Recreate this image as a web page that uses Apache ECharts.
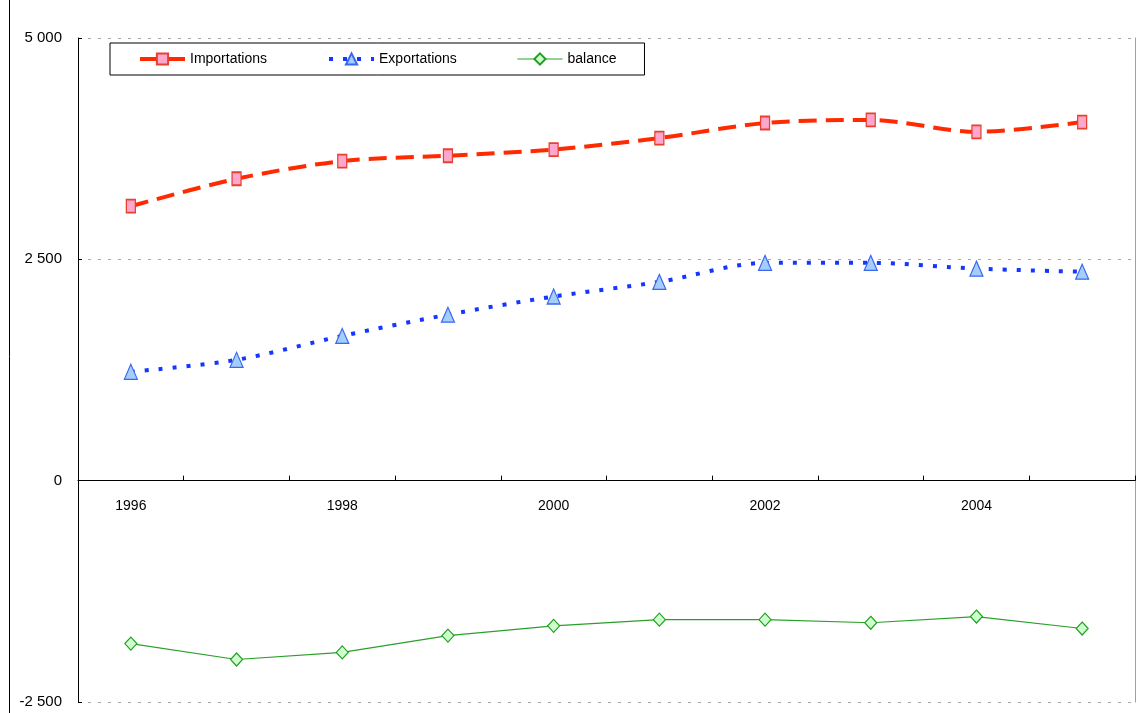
<!DOCTYPE html>
<html>
<head>
<meta charset="utf-8">
<script src="https://cdn.jsdelivr.net/npm/echarts@6/dist/echarts.min.js"></script>
<style>
  html, body { margin: 0; padding: 0; background: #fff; }
  #chart { width: 1138px; height: 713px; }
</style>
</head>
<body>
<div id="chart"></div>
<script>
var years = ["1996", "1997", "1998", "1999", "2000", "2001", "2002", "2003", "2004", "2005"];
var importations = [3100, 3410, 3610, 3670, 3740, 3870, 4040, 4075, 3940, 4050];
var exportations = [1230, 1365, 1635, 1875, 2080, 2245, 2460, 2460, 2395, 2360];
var balance = [-1840, -2020, -1940, -1750, -1640, -1570, -1570, -1605, -1535, -1670];

var font = "'Liberation Sans Narrow', 'Arial Narrow', 'Liberation Sans', sans-serif";

var gridTop = 38, gridBottom = 11, chartH = 713;
var yMin = -2500, yMax = 5000;
// distance from grid bottom up to the zero line
var zeroOffset = (chartH - gridTop - gridBottom) * (0 - yMin) / (yMax - yMin);

function fmt(v) {
  var s = String(Math.abs(v)).replace(/\B(?=(\d{3})+(?!\d))/g, " ");
  return (v < 0 ? "-" : "") + s;
}

var chart = echarts.init(document.getElementById("chart"));
chart.setOption({
  animation: false,
  backgroundColor: "#fff",
  textStyle: { fontFamily: font },
  grid: { left: 78, right: 3, top: gridTop, bottom: gridBottom, containLabel: false, outerBoundsMode: "none" },
  legend: {
    left: 110,
    top: 43,
    padding: [9, 28, 9, 28],
    itemGap: 60,
    itemWidth: 45,
    itemHeight: 14,
    borderColor: "#000",
    borderWidth: 1,
    textStyle: { fontFamily: font, fontSize: 14, color: "#000" },
    data: [
      { name: "Importations", lineStyle: { width: 4 } },
      { name: "Exportations", lineStyle: { width: 4 } },
      { name: "balance", lineStyle: { width: 1.2 } }
    ]
  },
  graphic: [
    { type: "line", shape: { x1: 9.5, y1: 0, x2: 9.5, y2: 713 }, style: { stroke: "#000", lineWidth: 1 } }
  ],
  xAxis: {
    type: "category",
    data: years,
    boundaryGap: true,
    position: "bottom",
    offset: -zeroOffset,
    axisLine: { onZero: false, lineStyle: { color: "#000", width: 1 } },
    axisTick: { show: true, inside: true, length: 5, interval: 0, lineStyle: { color: "#000" } },
    axisLabel: { interval: 1, margin: 18, fontSize: 14, color: "#000", fontFamily: font },
    splitLine: { show: false },
    z: 5
  },
  yAxis: [
    {
      type: "value",
      min: yMin,
      max: yMax,
      interval: 2500,
      axisLine: { show: true, lineStyle: { color: "#000" } },
      axisTick: { show: true, inside: true, length: 4, lineStyle: { color: "#000" } },
      axisLabel: { formatter: fmt, margin: 16, fontSize: 15, color: "#000", fontFamily: font },
      splitLine: { show: true, lineStyle: { color: "#a8a8a8", type: [3, 7], width: 1 } }
    },
    {
      type: "value",
      position: "right",
      min: yMin,
      max: yMax,
      interval: 2500,
      axisLine: { show: true, lineStyle: { color: "#a0a0a0" } },
      axisTick: { show: false },
      axisLabel: { show: false },
      splitLine: { show: false }
    }
  ],
  series: [
    {
      name: "Importations",
      type: "line",
      data: importations,
      smooth: 0.3,
      symbol: "rect",
      symbolSize: [9, 13],
      lineStyle: { color: "#ff2a00", width: 4, type: [18, 9] },
      itemStyle: { color: "#ffa6cc", borderColor: "#e8402f", borderWidth: 1.5 },
      z: 3
    },
    {
      name: "Exportations",
      type: "line",
      data: exportations,
      smooth: 0.3,
      symbol: "triangle",
      symbolSize: [13, 15],
      lineStyle: { color: "#1436ff", width: 4, type: [4, 10] },
      itemStyle: { color: "#a3cdfa", borderColor: "#3a66f0", borderWidth: 1.2 },
      z: 3
    },
    {
      name: "balance",
      type: "line",
      data: balance,
      smooth: false,
      symbol: "diamond",
      symbolSize: [12, 13],
      lineStyle: { color: "#2aa02a", width: 1.2 },
      itemStyle: { color: "#ccffcc", borderColor: "#22a022", borderWidth: 1.2 },
      z: 3
    }
  ]
});
</script>
</body>
</html>
